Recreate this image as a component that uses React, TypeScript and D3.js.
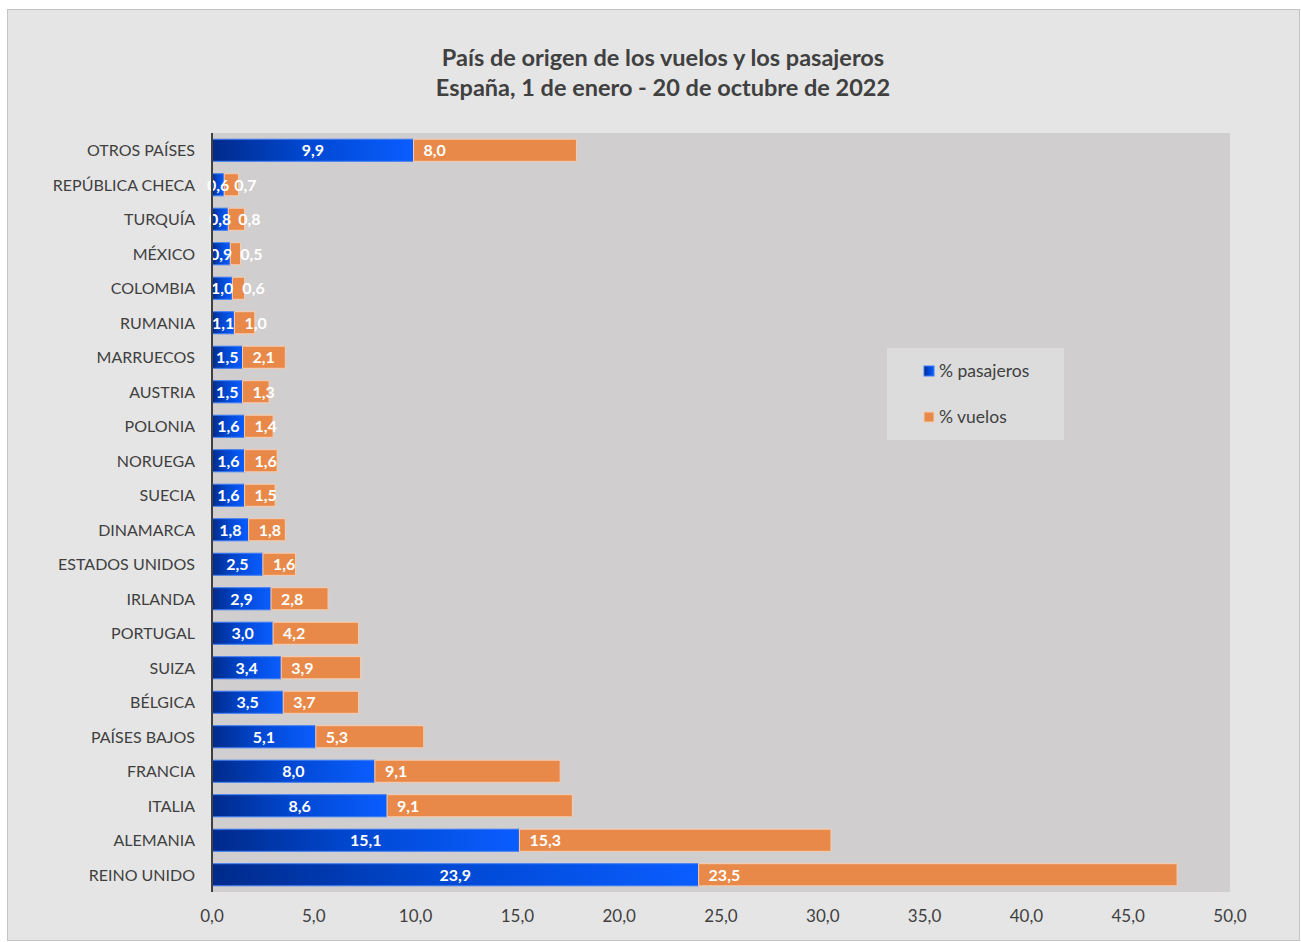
import React, { useEffect, useRef } from 'react';
import * as d3 from 'd3';

const categories = [
  'OTROS PAÍSES', 'REPÚBLICA CHECA', 'TURQUÍA', 'MÉXICO', 'COLOMBIA', 'RUMANIA',
  'MARRUECOS', 'AUSTRIA', 'POLONIA', 'NORUEGA', 'SUECIA', 'DINAMARCA',
  'ESTADOS UNIDOS', 'IRLANDA', 'PORTUGAL', 'SUIZA', 'BÉLGICA', 'PAÍSES BAJOS',
  'FRANCIA', 'ITALIA', 'ALEMANIA', 'REINO UNIDO',
];
const pasajeros = [9.9, 0.6, 0.8, 0.9, 1.0, 1.1, 1.5, 1.5, 1.6, 1.6, 1.6, 1.8, 2.5, 2.9, 3.0, 3.4, 3.5, 5.1, 8.0, 8.6, 15.1, 23.9];
const vuelos = [8.0, 0.7, 0.8, 0.5, 0.6, 1.0, 2.1, 1.3, 1.4, 1.6, 1.5, 1.8, 1.6, 2.8, 4.2, 3.9, 3.7, 5.3, 9.1, 9.1, 15.3, 23.5];
const xTicks = [0, 5, 10, 15, 20, 25, 30, 35, 40, 45, 50];
const seriesNames = ['% pasajeros', '% vuelos'];
const titleLines = ['País de origen de los vuelos y los pasajeros', 'España, 1 de enero - 20 de octubre de 2022'];

const W = 1301;
const H = 942;
const FONT = 'Lato, "Open Sans", sans-serif';
const fmt = (v: number) => v.toFixed(1).replace('.', ',');

const App: React.FC = () => {
  const svgRef = useRef<SVGSVGElement | null>(null);

  useEffect(() => {
    const svg = d3.select(svgRef.current);
    svg.selectAll('*').remove();

    const plot = { left: 212, right: 1230, top: 133, bottom: 892 };

    const defs = svg.append('defs');
    const grad = defs.append('linearGradient').attr('id', 'blueGrad')
      .attr('x1', '0%').attr('x2', '100%').attr('y1', '0%').attr('y2', '0%');
    grad.append('stop').attr('offset', '0%').attr('stop-color', '#002a8a');
    grad.append('stop').attr('offset', '45%').attr('stop-color', '#0047d0');
    grad.append('stop').attr('offset', '100%').attr('stop-color', '#0a5dff');

    // chart background + border
    svg.append('rect').attr('x', 0).attr('y', 0).attr('width', W).attr('height', H).attr('fill', '#ffffff');
    svg.append('rect')
      .attr('x', 7.5).attr('y', 9.5).attr('width', 1292).attr('height', 931)
      .attr('fill', '#e5e5e5').attr('stroke', '#c4c4c4').attr('stroke-width', 1);

    // plot area
    svg.append('rect')
      .attr('x', plot.left).attr('y', plot.top)
      .attr('width', plot.right - plot.left).attr('height', plot.bottom - plot.top)
      .attr('fill', '#d0cece');

    // title
    svg.append('g').selectAll('text')
      .data(titleLines)
      .join('text')
      .attr('x', 663).attr('y', (_, i) => 66 + i * 30)
      .attr('text-anchor', 'middle')
      .style('font-family', FONT).style('font-weight', 700).style('font-size', '23.5px')
      .attr('fill', '#404040')
      .text(d => d);

    const x = d3.scaleLinear().domain([0, 50]).range([plot.left, plot.right]);
    const y = d3.scaleBand().domain(categories).range([plot.top, plot.bottom]).paddingInner(0.36).paddingOuter(0.18);

    const rows = categories.map((c, i) => ({ c, p: pasajeros[i], v: vuelos[i] }));

    // blue bars
    svg.append('g').selectAll('rect')
      .data(rows)
      .join('rect')
      .attr('x', x(0)).attr('y', d => y(d.c)!)
      .attr('width', d => x(d.p) - x(0)).attr('height', y.bandwidth())
      .attr('fill', 'url(#blueGrad)').attr('stroke', '#3f7df5').attr('stroke-width', 1);

    // orange bars
    svg.append('g').selectAll('rect')
      .data(rows)
      .join('rect')
      .attr('x', d => x(d.p)).attr('y', d => y(d.c)!)
      .attr('width', d => x(d.p + d.v) - x(d.p)).attr('height', y.bandwidth())
      .attr('fill', '#e8894a').attr('stroke', '#f6cdb0').attr('stroke-width', 1);

    // value labels: pasajeros centred, vuelos near the start of the segment
    const labels = svg.append('g')
      .style('font-family', FONT).style('font-weight', 700).style('font-size', '16px')
      .attr('fill', '#ffffff');
    labels.selectAll('text.p')
      .data(rows)
      .join('text')
      .attr('class', 'p')
      .attr('x', d => (x(0) + x(d.p)) / 2)
      .attr('y', d => y(d.c)! + y.bandwidth() / 2 + 6)
      .attr('text-anchor', 'middle')
      .text(d => fmt(d.p));
    labels.selectAll('text.v')
      .data(rows)
      .join('text')
      .attr('class', 'v')
      .attr('x', d => x(d.p) + 10)
      .attr('y', d => y(d.c)! + y.bandwidth() / 2 + 6)
      .attr('text-anchor', 'start')
      .text(d => fmt(d.v));

    // category labels
    svg.append('g').selectAll('text')
      .data(categories)
      .join('text')
      .attr('x', 195)
      .attr('y', d => y(d)! + y.bandwidth() / 2 + 6)
      .attr('text-anchor', 'end')
      .style('font-family', FONT).style('font-size', '16px')
      .attr('fill', '#404040')
      .text(d => d);

    // vertical axis line
    svg.append('line')
      .attr('x1', plot.left).attr('x2', plot.left)
      .attr('y1', plot.top).attr('y2', plot.bottom)
      .attr('stroke', '#404040').attr('stroke-width', 2);

    // x tick labels
    svg.append('g').selectAll('text')
      .data(xTicks)
      .join('text')
      .attr('x', d => x(d)).attr('y', 922)
      .attr('text-anchor', 'middle')
      .style('font-family', FONT).style('font-size', '17px')
      .attr('fill', '#404040')
      .text(d => fmt(d));

    // legend
    const lg = svg.append('g');
    lg.append('rect').attr('x', 887).attr('y', 348).attr('width', 177).attr('height', 92).attr('fill', '#dcdcdc');
    const items = lg.selectAll('g.item')
      .data(seriesNames)
      .join('g')
      .attr('class', 'item')
      .attr('transform', (_, i) => `translate(924,${371 + i * 46})`);
    items.append('rect')
      .attr('x', 0).attr('y', -5).attr('width', 10).attr('height', 10)
      .attr('fill', (_, i) => (i === 0 ? 'url(#blueGrad)' : '#e8894a'))
      .attr('stroke', (_, i) => (i === 0 ? '#3f7df5' : '#f6cdb0'));
    items.append('text')
      .attr('x', 15).attr('y', 6)
      .style('font-family', FONT).style('font-size', '17.5px')
      .attr('fill', '#404040')
      .text(d => d);
  }, []);

  return (
    <div style={{ position: 'absolute', left: 0, top: 0 }}>
      <svg ref={svgRef} width={W} height={H} style={{ display: 'block' }} />
    </div>
  );
};

export default App;
